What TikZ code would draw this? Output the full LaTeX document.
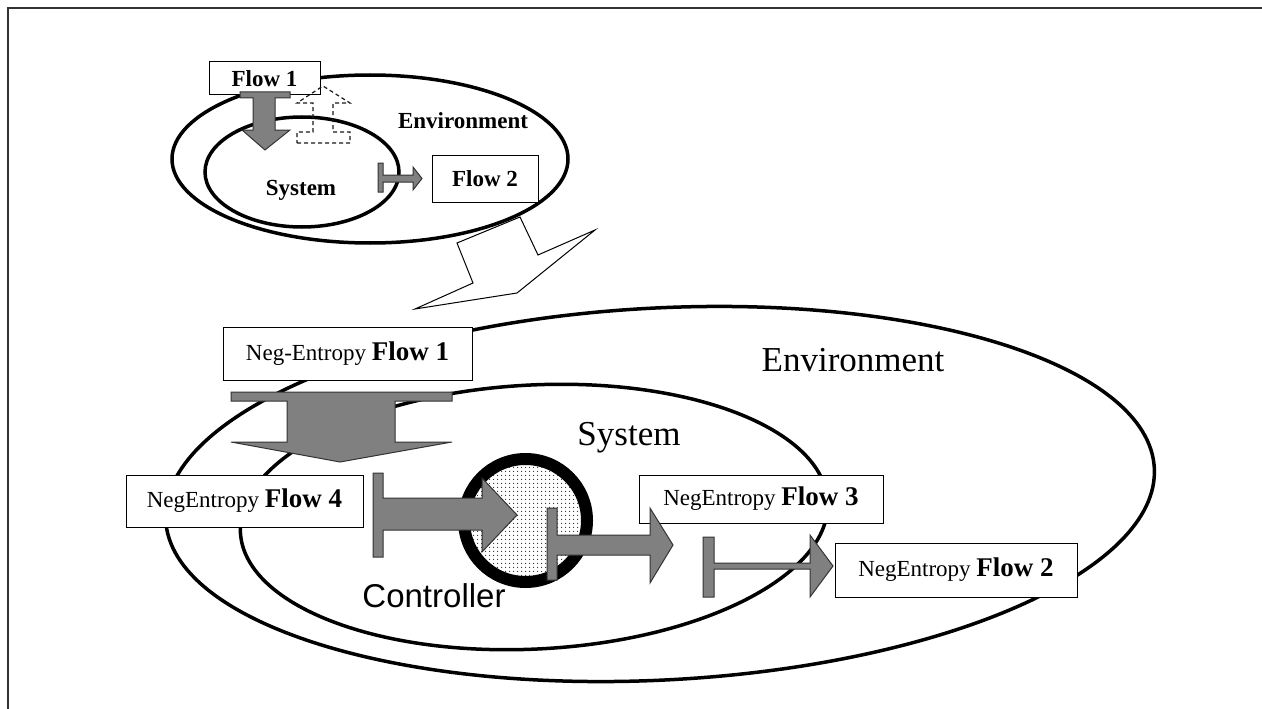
\documentclass[tikz,border=0pt]{standalone}
\usepackage{fontspec}
\setmainfont{Liberation Serif}
\newfontfamily\sansf{Liberation Sans}
\usetikzlibrary{patterns}
\pgfdeclarepatternformonly{cdots}{\pgfpointorigin}{\pgfpoint{4pt}{4pt}}{\pgfpoint{4pt}{4pt}}%
  {\pgfpathcircle{\pgfpoint{2pt}{2pt}}{0.75pt}\pgfusepath{fill}}
\begin{document}
\begin{tikzpicture}[x=1pt,y=-1pt,
  ell/.style={line width=3.5pt},
  flowbox/.style={draw, line width=1pt, fill=white, inner sep=0pt, align=center},
  garrow/.style={draw=black!80, line width=1pt, fill=black!50, line join=miter},
  harrow/.style={draw=black!90, line width=1.2pt, dash pattern=on 4pt off 3pt},
  smalltxt/.style={font=\fontsize{23}{26}\selectfont\bfseries},
  bigtxt/.style={font=\fontsize{35}{40}\selectfont},
  boxtxt/.style={font=\fontsize{23}{27}\selectfont},
]
\newcommand{\bflow}[1]{\fontsize{27}{30}\selectfont\bfseries Flow #1}
\useasboundingbox (0,0) rectangle (1262,709);
\draw[line width=1.5pt, black!80] (8,709) -- (8,8) -- (1262,8);

% ---------- small diagram ----------
\draw[ell] (370,159) ellipse [x radius=198, y radius=84];
\draw[ell] (302,172) ellipse [x radius=97, y radius=55];
\node[smalltxt] (envs) at (463,121) {Environment};
\node[smalltxt] (syss) at (301,190) {System};
\node[flowbox, smalltxt, minimum width=111, minimum height=33] (sf1) at (264.5,78.5) {Flow 1};
\node[flowbox, smalltxt, minimum width=106, minimum height=47] (sf2) at (485,178.5) {Flow 2};
% small flow 1 arrow (down)
\draw[garrow] (240,92) -- (290,92) -- (290,98) -- (275,98) -- (275,130) -- (290,130) -- (265,150)
  -- (242,130) -- (253,130) -- (253,98) -- (240,98) -- cycle;
% dashed up arrow
\draw[harrow] (297,143) -- (350,143) -- (350,132) -- (333,132) -- (333,103) -- (350,103) -- (323,86)
  -- (297,103) -- (313,103) -- (313,132) -- (297,132) -- cycle;
% small flow 2 arrow
\draw[garrow] (378,163) -- (383,163) -- (383,175) -- (413,175) -- (413,167) -- (422,178.5) -- (413,190)
  -- (413,182) -- (383,182) -- (383,192) -- (378,192) -- cycle;

% ---------- transition arrow ----------
\draw[line width=1pt, fill=white] (457,243) -- (520,217) -- (538,255) -- (595,230) -- (517,293)
  -- (415,309) -- (473,283) -- cycle;

% ---------- large diagram ----------
\draw[ell, rotate around={3:(660,494)}] (660,494) ellipse [x radius=495, y radius=186];
\draw[ell, rotate around={3:(534,517)}] (534,517) ellipse [x radius=294, y radius=132];
\node[bigtxt] (envb) at (853,360) {Environment};
\node[bigtxt] (sysb) at (629,438) {System};
\node[font=\sansf\fontsize{33}{38}\selectfont] (ctrl) at (434,596) {Controller};

% controller
\node[circle, minimum size=123, line width=12pt, draw, fill=white, inner sep=0pt] (cc) at (525.5,520.5) {};
\fill[pattern=cdots, pattern color=black!85] (cc.center) circle [radius=56];

% boxes
\node[flowbox, boxtxt, minimum width=249, minimum height=53] (f1) at (347.5,353.5)
  {Neg-Entropy \bflow{1}};
\node[flowbox, boxtxt, minimum width=237, minimum height=52] (f4) at (244.5,501)
  {NegEntropy \bflow{4}};
\node[flowbox, boxtxt, minimum width=244, minimum height=48] (f3) at (761,499)
  {NegEntropy \bflow{3}};
\node[flowbox, boxtxt, minimum width=242, minimum height=54] (f2) at (956,570)
  {NegEntropy \bflow{2}};

% big flow 1 arrow (down)
\draw[garrow] (231,392) -- (452,392) -- (452,401) -- (395,401) -- (395,442) -- (452,442) -- (340,462)
  -- (231,442) -- (287,442) -- (287,401) -- (231,401) -- cycle;
% flow 4 arrow (right)
\draw[garrow] (373,473) -- (383,473) -- (383,498) -- (482,498) -- (482,478) -- (517,515) -- (482,552)
  -- (482,530) -- (383,530) -- (383,557) -- (373,557) -- cycle;
% flow 3 arrow
\draw[garrow] (547,508) -- (557,508) -- (557,535) -- (650,535) -- (650,508) -- (673,545) -- (650,583)
  -- (650,555) -- (557,555) -- (557,580) -- (547,580) -- cycle;
% flow 2 arrow (thin)
\draw[garrow] (703,537) -- (714,537) -- (714,563) -- (810,563) -- (810,535) -- (833,566) -- (810,597)
  -- (810,569) -- (714,569) -- (714,597) -- (703,597) -- cycle;
\end{tikzpicture}
\end{document}
